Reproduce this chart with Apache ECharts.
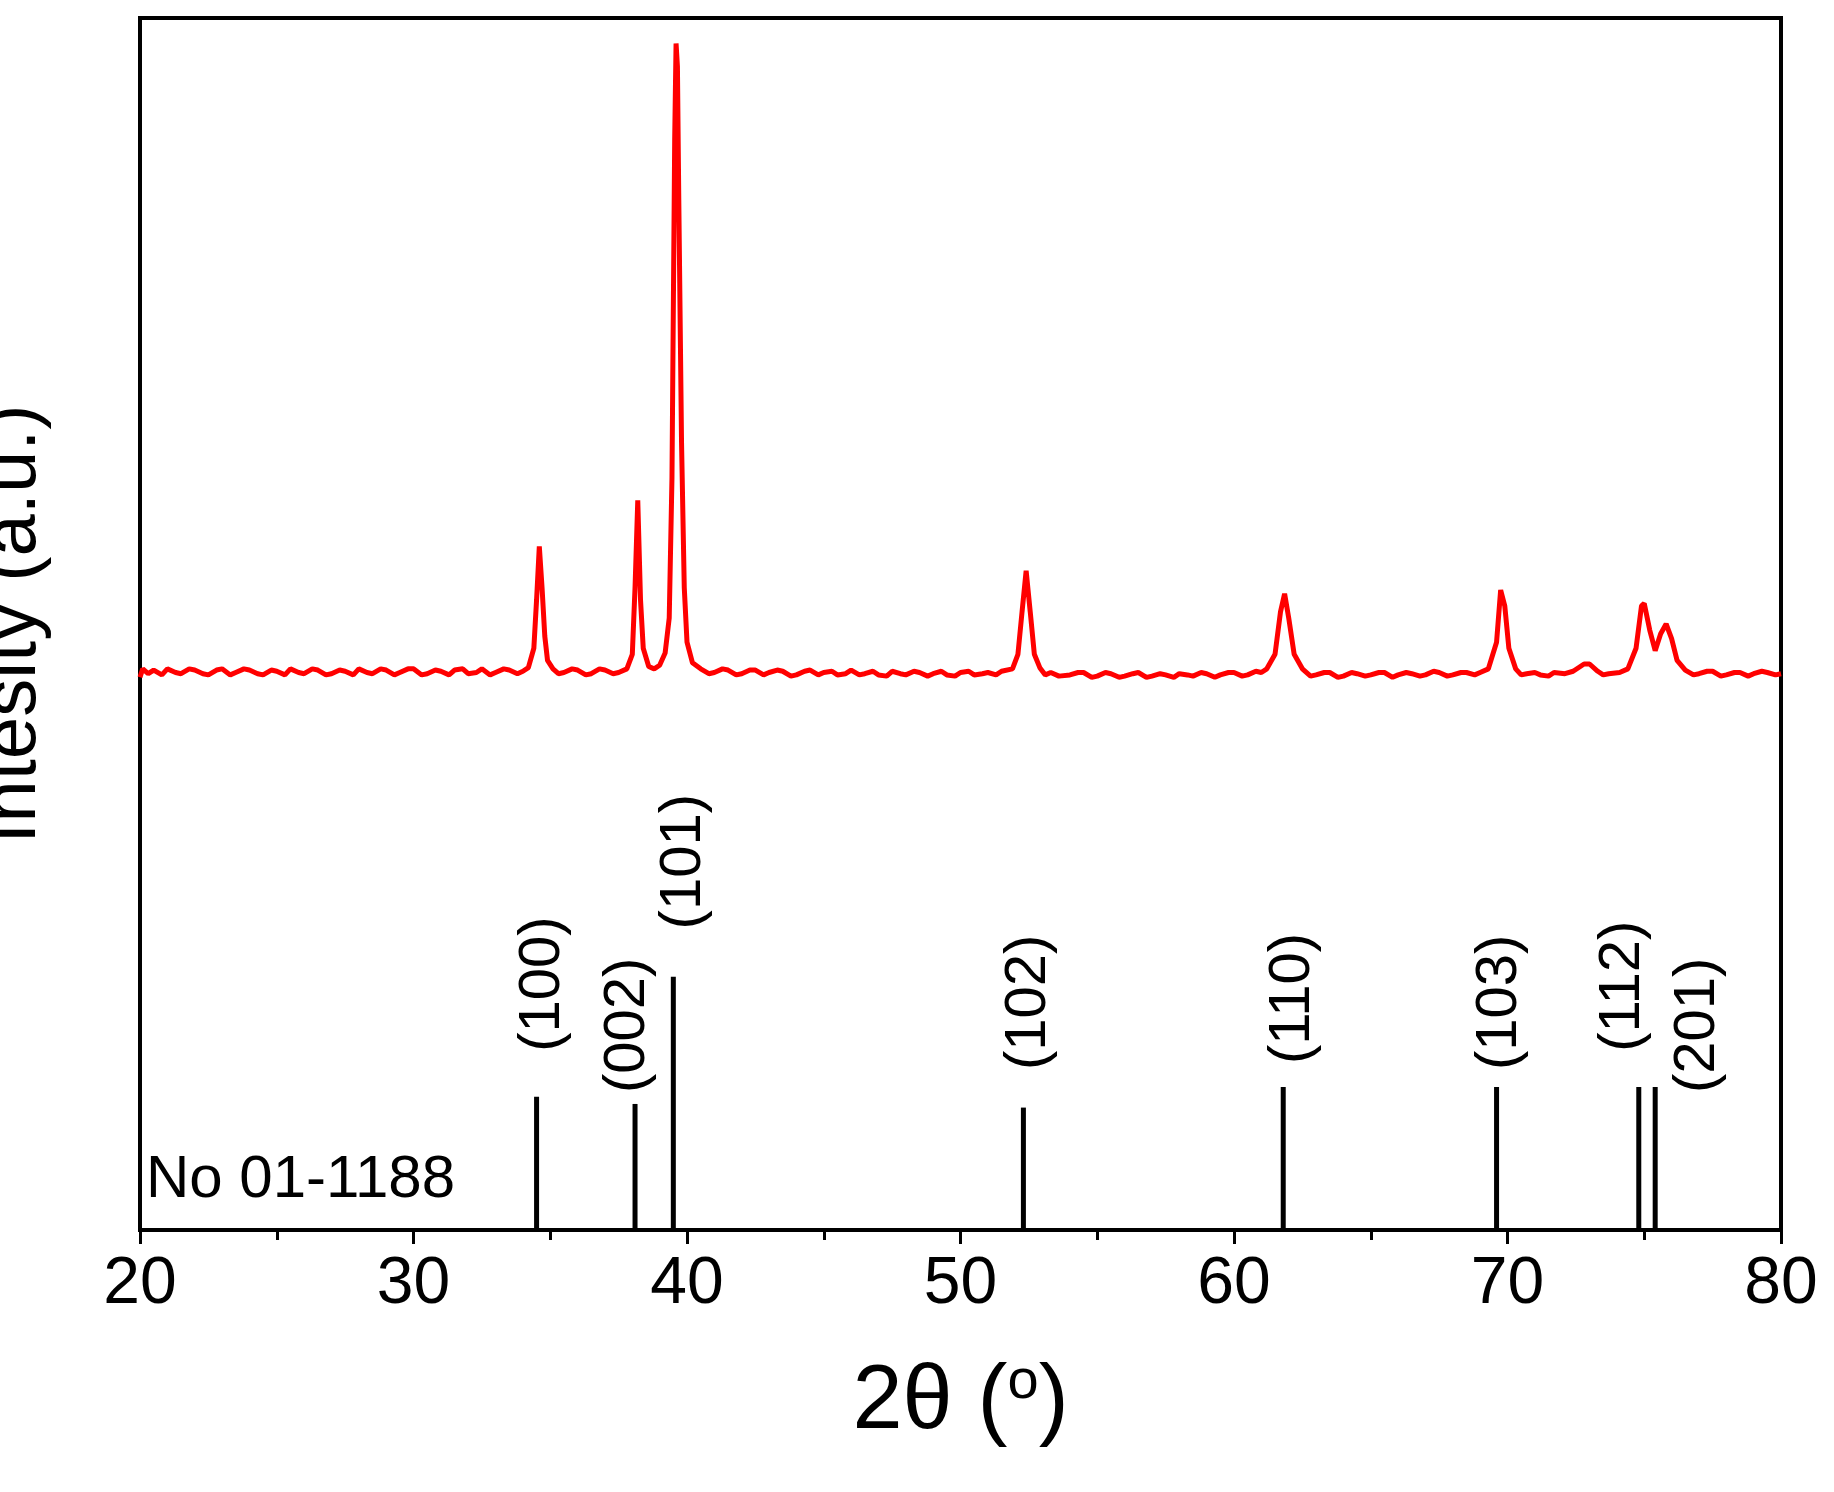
<!DOCTYPE html>
<html>
<head>
<meta charset="utf-8">
<script src="https://cdn.jsdelivr.net/npm/echarts@6/dist/echarts.min.js"></script>
<style>html,body{margin:0;padding:0;background:#fff}#chart{width:1834px;height:1492px}</style>
</head>
<body>
<div id="chart"></div>
<script>
// measured XRD pattern, [2theta, intensity]
var xrdPattern = [
  [20.0,45.6],[20.1,46.3],[20.3,45.9],[20.5,46.2],[20.8,45.8],[21.0,46.3],[21.3,46.0],[21.5,45.9],[21.8,46.3],[22.0,46.2],[22.3,45.9],[22.5,45.8],[22.8,46.2],[23.0,46.3],[23.3,45.8],[23.5,46.0],
  [23.8,46.3],[24.0,46.2],[24.3,45.9],[24.5,45.8],[24.8,46.2],[25.0,46.1],[25.3,45.8],[25.5,46.3],[25.8,46.0],[26.0,45.9],[26.3,46.3],[26.5,46.2],[26.8,45.8],[27.0,45.9],[27.3,46.2],[27.5,46.1],[27.8,45.8],[28.0,46.3],
  [28.3,46.0],[28.5,45.9],[28.8,46.3],[29.0,46.2],[29.3,45.8],[29.5,46.0],[29.8,46.3],[30.0,46.3],[30.3,45.8],[30.5,45.9],[30.8,46.2],[31.0,46.1],[31.3,45.8],[31.5,46.2],[31.8,46.3],[32.0,45.9],[32.3,46.0],[32.5,46.3],
  [32.8,45.8],[33.0,46.0],[33.3,46.3],[33.5,46.2],[33.8,45.9],[34.0,46.1],[34.2,46.4],[34.4,48.0],[34.5,52.0],[34.6,56.4],[34.7,53.0],[34.8,49.0],
  [34.9,47.0],[35.1,46.3],[35.3,45.9],[35.5,46.0],[35.8,46.3],[36.0,46.2],[36.3,45.8],[36.5,45.9],[36.8,46.3],[37.0,46.2],[37.3,45.9],[37.5,46.0],[37.8,46.3],[38.0,47.5],
  [38.1,53.0],[38.2,60.2],[38.3,52.0],[38.4,48.0],[38.6,46.5],[38.8,46.3],[39.0,46.6],[39.2,47.6],[39.35,50.5],
  [39.45,62.0],[39.55,90.0],[39.6,97.9],[39.65,96.0],[39.7,85.0],[39.8,65.0],[39.9,53.0],[40.0,48.5],
  [40.2,46.8],[40.5,46.3],[40.8,45.9],[41.0,46.0],[41.3,46.3],[41.5,46.2],[41.8,45.8],[42.0,45.9],[42.3,46.2],[42.5,46.2],[42.8,45.8],[43.0,46.0],[43.3,46.2],[43.5,46.1],[43.8,45.7],[44.0,45.8],
  [44.3,46.1],[44.5,46.2],[44.8,45.8],[45.0,46.0],[45.3,46.1],[45.5,45.8],[45.8,45.9],[46.0,46.2],[46.3,45.8],[46.5,45.9],[46.8,46.1],[47.0,45.8],[47.3,45.7],[47.5,46.1],[47.8,45.9],[48.0,45.8],[48.3,46.1],[48.5,46.0],
  [48.8,45.7],[49.0,45.9],[49.3,46.1],[49.5,45.8],[49.8,45.7],[50.0,46.0],[50.3,46.1],[50.5,45.8],[50.8,45.9],[51.0,46.0],[51.3,45.8],[51.5,46.1],[51.9,46.3],[52.1,47.5],[52.25,51.0],
  [52.4,54.4],[52.55,51.0],[52.7,47.5],[52.9,46.4],[53.1,45.8],[53.3,46.0],[53.6,45.7],[54.0,45.8],[54.3,46.0],[54.5,46.0],[54.8,45.6],[55.0,45.7],[55.3,46.0],[55.5,45.9],
  [55.8,45.6],[56.0,45.7],[56.3,45.9],[56.5,46.0],[56.8,45.6],[57.0,45.7],[57.3,45.9],[57.5,45.8],[57.8,45.6],[58.0,45.9],[58.3,45.8],[58.5,45.7],[58.8,46.0],[59.0,45.9],[59.3,45.6],[59.5,45.8],[59.8,46.0],[60.0,46.0],
  [60.3,45.7],[60.5,45.8],[60.8,46.1],[61.0,46.0],[61.2,46.3],[61.5,47.5],[61.7,51.0],[61.85,52.5],[62.0,50.5],[62.2,47.5],[62.5,46.3],
  [62.8,45.7],[63.0,45.8],[63.3,46.0],[63.5,46.0],[63.8,45.6],[64.0,45.7],[64.3,46.0],[64.5,45.9],[64.8,45.7],[65.0,45.8],[65.3,46.0],[65.5,46.0],[65.8,45.6],[66.0,45.8],[66.3,46.0],[66.5,45.9],[66.8,45.7],[67.0,45.8],
  [67.3,46.1],[67.5,46.0],[67.8,45.7],[68.0,45.8],[68.3,46.0],[68.5,46.0],[68.8,45.8],[69.0,46.0],[69.3,46.3],[69.6,48.5],[69.75,52.8],[69.9,51.5],[70.05,48.0],
  [70.3,46.3],[70.5,45.8],[70.7,45.9],[71.0,46.0],[71.2,45.8],[71.5,45.7],[71.7,46.0],[72.1,45.9],[72.4,46.1],[72.8,46.7],[73.0,46.7],[73.3,46.1],
  [73.5,45.8],[73.7,45.9],[74.1,46.0],[74.4,46.3],[74.7,48.0],[74.9,51.5],[75.0,51.7],[75.2,49.5],[75.4,47.8],[75.6,49.2],
  [75.8,50.0],[76.0,48.8],[76.2,47.0],[76.5,46.2],[76.8,45.8],[77.0,45.9],[77.3,46.1],[77.5,46.1],[77.8,45.7],[78.0,45.8],[78.3,46.0],[78.5,46.0],[78.8,45.7],[79.0,45.9],
  [79.3,46.1],[79.5,46.0],[79.8,45.8],[80.0,45.9]
];

// reference card No 01-1188 lines
var refPos = [34.5, 38.1, 39.5, 52.3, 61.8, 69.6, 74.8, 75.4];
var refHeight = [11.0, 10.4, 20.9, 10.1, 11.8, 11.8, 11.8, 11.8];
var refHkl = ['(100)', '(002)', '(101)', '(102)', '(110)', '(103)', '(112)', '(201)'];
// label anchor (x in 2theta, bottom end in intensity units)
var hklLabelX = [34.75, 37.83, 39.88, 52.5, 62.17, 69.74, 74.23, 76.97];
var hklLabelY = [14.7, 11.3, 24.8, 13.2, 13.7, 13.2, 14.7, 11.3];

var xTicks = [20, 30, 40, 50, 60, 70, 80];

var stickData = [];
for (var i = 0; i < refPos.length; i++) {
  stickData.push([refPos[i], refHeight[i], hklLabelX[i], hklLabelY[i]]);
}

var font = 'Liberation Sans, Arial, sans-serif';

var chart = echarts.init(document.getElementById('chart'));
chart.setOption({
  animation: false,
  backgroundColor: '#fff',
  grid: {left: 140, right: 53, top: 18, bottom: 262, outerBoundsMode: 'none', containLabel: false,
    show: true, borderColor: '#000', borderWidth: 4, backgroundColor: 'transparent'},
  xAxis: {
    type: 'value', min: xTicks[0], max: xTicks[xTicks.length - 1], interval: 10,
    name: '{a|2θ (}{b|o}{a|)}', nameLocation: 'middle', nameGap: 125,
    nameTextStyle: {rich: {
      a: {fontFamily: font, fontSize: 90, color: '#000'},
      b: {fontFamily: font, fontSize: 56, color: '#000', verticalAlign: 'top', padding: [0, 0, 40, 0]}
    }},
    axisLine: {lineStyle: {color: '#000', width: 4}},
    axisTick: {inside: false, length: 14, lineStyle: {color: '#000', width: 3}},
    minorTick: {show: true, splitNumber: 2, length: 10, lineStyle: {color: '#000', width: 3}},
    axisLabel: {fontFamily: font, fontSize: 66, color: '#000', margin: 22},
    splitLine: {show: false}
  },
  yAxis: {
    type: 'value', min: 0, max: 100,
    name: 'Intesity (a.u.)', nameLocation: 'middle', nameGap: 88,
    nameTextStyle: {fontFamily: font, fontSize: 76, color: '#000'},
    axisLine: {lineStyle: {color: '#000', width: 4}},
    axisTick: {show: false}, axisLabel: {show: false}, splitLine: {show: false}
  },
  series: [
    {
      type: 'line', data: xrdPattern, symbol: 'none', smooth: false,
      lineStyle: {color: '#ff0000', width: 5}
    },
    {
      type: 'custom', data: stickData,
      renderItem: function (params, api) {
        var p0 = api.coord([api.value(0), 0]);
        var p1 = api.coord([api.value(0), api.value(1)]);
        var pl = api.coord([api.value(2), api.value(3)]);
        return {
          type: 'group',
          children: [
            {type: 'line', shape: {x1: p0[0], y1: p0[1], x2: p1[0], y2: p1[1]}, style: {stroke: '#000', lineWidth: 5}},
            {type: 'text', x: pl[0], y: pl[1], rotation: Math.PI / 2,
              style: {text: refHkl[params.dataIndex], fontFamily: font, fontSize: 58, fill: '#000', align: 'left', verticalAlign: 'middle'}}
          ]
        };
      }
    }
  ],
  graphic: [
    {type: 'text', left: 146, top: 1150, style: {text: 'No 01-1188', fontFamily: font, fontSize: 60, fill: '#000'}}
  ]
});
</script>
</body>
</html>
